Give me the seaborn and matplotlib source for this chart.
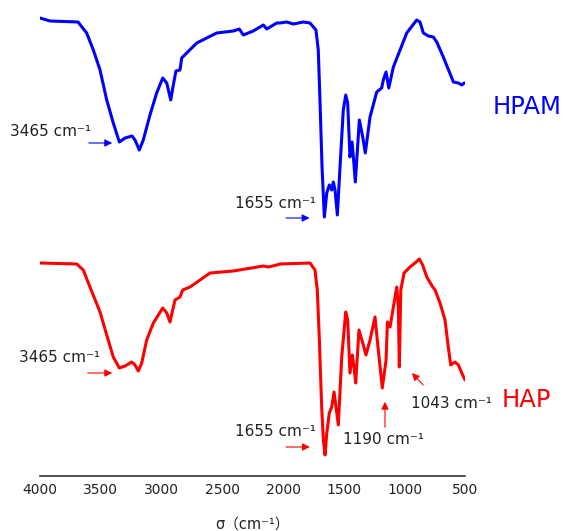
import matplotlib
matplotlib.use("Agg")
import matplotlib.pyplot as plt
import seaborn as sns
import numpy as np

# wavenumber (cm-1) and relative transmittance
hpam_wn = [4000, 3918, 3687, 3616, 3561, 3506, 3451, 3397, 3347, 3300, 3243, 3218, 3183, 3150,
           3095, 3040, 2990, 2957, 2924, 2903, 2881, 2848, 2834, 2793, 2710, 2628, 2546, 2409,
           2360, 2327, 2245, 2162, 2134, 2052, 2025, 1970, 1915, 1833, 1778, 1729, 1710, 1696,
           1679, 1660, 1640, 1619, 1599, 1586, 1572, 1553, 1531, 1504, 1484, 1468, 1449, 1432,
           1421, 1405, 1372, 1344, 1323, 1284, 1229, 1188, 1175, 1152, 1130, 1092, 1037, 982,
           900, 873, 845, 804, 763, 735, 681, 631, 598, 557, 529, 508]
hpam_t = [458, 455, 454, 443, 426, 406, 376, 353, 334, 338, 340, 336, 326, 336,
          361, 383, 398, 393, 376, 391, 405, 406, 418, 423, 433, 438, 443, 445,
          447, 441, 445, 451, 447, 453, 453, 454, 452, 454, 453, 446, 426, 376,
          309, 259, 283, 291, 286, 294, 286, 261, 309, 366, 381, 373, 319, 334,
          319, 294, 356, 339, 323, 359, 384, 388, 396, 404, 388, 409, 426, 443,
          456, 454, 443, 440, 439, 434, 419, 404, 394, 393, 391, 393]

hap_wn = [4000, 3698, 3644, 3589, 3506, 3451, 3397, 3347, 3300, 3245, 3218, 3191, 3163, 3122,
          3067, 2990, 2957, 2930, 2908, 2889, 2848, 2826, 2765, 2683, 2601, 2409, 2162, 2121,
          2052, 2025, 1778, 1737, 1718, 1701, 1682, 1668, 1654, 1640, 1619, 1599, 1580, 1564,
          1545, 1517, 1484, 1468, 1449, 1430, 1416, 1402, 1375, 1344, 1317, 1284, 1243, 1216,
          1183, 1152, 1141, 1119, 1092, 1064, 1051, 1043, 1031, 1004, 955, 914, 878, 851,
          817, 768, 749, 708, 667, 640, 620, 585, 557, 529, 502]
hap_t = [213, 212, 206, 189, 164, 141, 119, 108, 110, 114, 111, 105, 113, 136,
         153, 168, 163, 154, 166, 176, 179, 186, 189, 196, 203, 205, 210, 209,
         211, 212, 213, 206, 186, 136, 69, 36, 21, 43, 63, 69, 84, 69,
         51, 119, 164, 156, 103, 121, 109, 93, 146, 133, 121, 136, 159, 126,
         88, 116, 154, 149, 169, 189, 169, 109, 186, 203, 209, 213, 217, 211,
         199, 189, 186, 173, 156, 129, 111, 114, 111, 103, 96]

x_ticks = [4000, 3500, 3000, 2500, 2000, 1500, 1000, 500]

sns.set_style("white")
plt.rcParams["font.family"] = ["DejaVu Sans", "Noto Sans CJK SC"]

fig = plt.figure(figsize=(5.63, 5.31), dpi=100)
ax = fig.add_axes([40 / 563, 55 / 531, 425.3 / 563, 476 / 531])

sns.lineplot(x=hpam_wn, y=hpam_t, color="#0000ff", lw=2.2, sort=False, estimator=None, ax=ax,
             solid_joinstyle="round", solid_capstyle="round")
sns.lineplot(x=hap_wn, y=hap_t, color="#ff0000", lw=2.2, sort=False, estimator=None, ax=ax,
             solid_joinstyle="round", solid_capstyle="round")

ax.set_xlim(4000, 500)
ax.set_ylim(0, 476)
ax.set_yticks([])
ax.set_xticks(x_ticks)
ax.set_xticks(np.arange(3750, 500, -500), minor=True)
ax.tick_params(axis="x", which="major", direction="in", length=7, width=1.1,
               color="#333333", labelsize=10, labelcolor="#222222", pad=5)
ax.tick_params(axis="x", which="minor", direction="in", length=3.5, width=1.1, color="#333333")
for s in ["top", "right", "left"]:
    ax.spines[s].set_visible(False)
ax.spines["bottom"].set_color("#333333")
ax.spines["bottom"].set_linewidth(1.2)
ax.set_xlabel("σ（cm⁻¹）", fontsize=10.5, color="#222222", labelpad=14)


def label(txt, x, y, color="#222222", size=11):
    ax.text(x, y, txt, ha="center", va="center", fontsize=size, color=color, clip_on=False)


def arrow(x0, y0, x1, y1, color):
    ax.annotate("", xy=(x1, y1), xytext=(x0, y0),
                arrowprops=dict(arrowstyle="-|>", color=color, lw=0.8, mutation_scale=11))


# HPAM annotations
label("3465 cm⁻¹", 3911, 344)
arrow(3621, 333, 3383, 333, "#0000ff")
label("1655 cm⁻¹", 2060, 273)
arrow(1998, 258, 1759, 258, "#0000ff")
label("HPAM", -12, 369, color="#0000ff", size=17.5)

# HAP annotations
label("3465 cm⁻¹", 3840, 119)
arrow(3630, 103, 3383, 103, "#ff0000")
label("1655 cm⁻¹", 2060, 44)
arrow(1998, 29, 1756, 29, "#ff0000")
label("1190 cm⁻¹", 1175, 36)
arrow(1161, 46, 1161, 77, "#ff0000")
label("1043 cm⁻¹", 617, 73)
arrow(831, 89, 955, 105, "#ff0000")
label("HAP", -1, 76, color="#ff0000", size=17.5)

fig.savefig("out.png", dpi=100)
